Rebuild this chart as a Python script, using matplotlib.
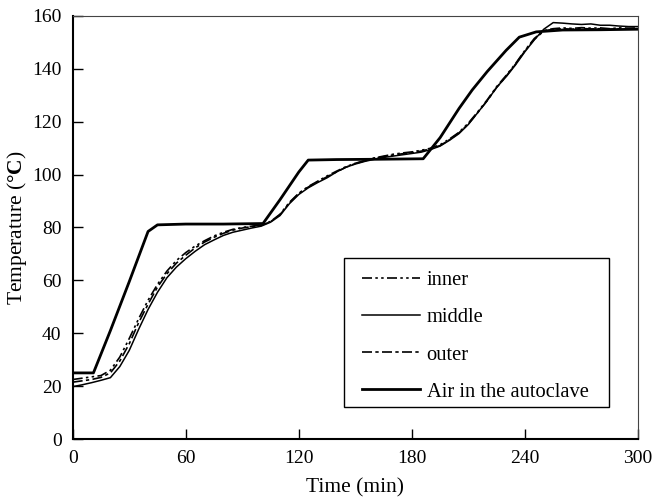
import matplotlib
matplotlib.use("Agg")
import matplotlib.pyplot as plt
from matplotlib.patches import Rectangle

plt.rcParams['font.family'] = ['Liberation Serif', 'DejaVu Serif']
plt.rcParams['mathtext.fontset'] = 'custom'
plt.rcParams['mathtext.rm'] = 'Liberation Serif'
plt.rcParams['mathtext.bf'] = 'Liberation Serif:bold'

# air temperature in the autoclave (breakpoints)
t_air = [0, 5, 11, 20, 30, 40, 45, 60, 80, 101, 110, 120, 125, 140, 160, 186, 195, 205,
         212, 220, 230, 237, 246, 260, 280, 300]
T_air = [25, 25, 25, 41, 59.5, 78.5, 81, 81.3, 81.3, 81.5, 90.5, 101, 105.5, 105.7, 105.8,
         106, 114, 125, 132, 139, 147, 152, 154, 154.7, 154.8, 155]

# probe readings every 5 min
t_probe = list(range(0, 301, 5))
T_inner = [22.5, 23, 23.5, 24, 26, 31, 38, 45.5, 52.5, 58.5, 63.5, 67.5, 70.5, 73, 75,
           76.8, 78.2, 79.3, 80, 80.5, 81, 82.3, 85, 89.5, 93, 95.5, 97.5, 99.5, 101.3,
           103, 104.3, 105.3, 106.3, 107, 107.7, 108.2, 108.6, 109.2, 110, 111.3, 113.5,
           116, 119.5, 123.8, 128.3, 133.3, 137.5, 142, 147, 151.5, 154.5, 155.2, 155.5,
           155.3, 155.6, 155.4, 155.5, 155.2, 155.5, 155.4, 155.5]
T_middle = [19.8, 20.5, 21.3, 22.2, 23.2, 27.4, 33.5, 41.5, 49, 55.5, 61, 65, 68.2, 71,
            73.5, 75.3, 77, 78.2, 79, 79.8, 80.5, 82, 84.5, 89, 92.5, 95, 97, 98.8, 101,
            102.8, 104, 105, 105.8, 106.5, 107, 107.5, 108, 108.5, 109.5, 110.8, 113, 115.5,
            119, 123.5, 128, 133, 137, 141.5, 146.5, 151, 155, 157.5, 157.3, 157, 156.8,
            157, 156.5, 156.5, 156.2, 156, 156]
T_outer = [21.5, 22, 22.5, 23.3, 25, 29.5, 36, 44, 51, 57.5, 62.5, 66.5, 69.5, 72.3, 74.5,
           76.3, 77.8, 79, 79.8, 80.3, 80.8, 82.2, 84.8, 89.3, 92.8, 95.3, 97.3, 99.2, 101,
           102.8, 104.2, 105.2, 106.2, 106.8, 107.4, 107.9, 108.3, 108.9, 109.8, 111, 113.2,
           115.8, 119.2, 123.5, 128, 133, 137.2, 141.8, 146.8, 151.2, 154.3, 155, 155.2,
           155, 155.3, 155.1, 155.2, 155, 155.2, 155.1, 155.2]

W, H = 653, 499
fig = plt.figure(figsize=(W / 100, H / 100), dpi=100)
ax = fig.add_axes([72.7 / W, 60 / H, (638 - 72.7) / W, (439 - 16) / H])

ax.plot(t_probe, T_inner, color='black', lw=1.2, ls=(0, (6, 2, 1.5, 2, 1.5, 2)), label='inner')
ax.plot(t_probe, T_middle, color='black', lw=1.1, ls='-', label='middle')
ax.plot(t_probe, T_outer, color='black', lw=1.2, ls=(0, (6, 2, 2, 2)), label='outer')
ax.plot(t_air, T_air, color='black', lw=2.0, ls='-', label='Air in the autoclave')

ax.set_xlim(0, 300)
ax.set_ylim(0, 160)
ax.set_xticks([0, 60, 120, 180, 240, 300])
ax.set_yticks(range(0, 161, 20))
ax.tick_params(direction='in', length=7, width=1, labelsize=14, pad=8,
               top=False, right=False)
for side in ['left', 'bottom']:
    ax.spines[side].set_linewidth(1.5)
for side in ['top', 'right']:
    ax.spines[side].set_linewidth(0.8)
    ax.spines[side].set_color('#444444')

ax.set_xlabel('Time (min)', fontsize=15.5, labelpad=8)
ax.set_ylabel('Temperature ($\\mathbf{\u00b0C}$)', fontsize=15.5, labelpad=2)

# legend box drawn separately so its padding matches the original
box = Rectangle((344 / W, 1 - 407 / H), 265 / W, 149 / H, transform=fig.transFigure,
                facecolor='white', edgecolor='black', lw=1.0, zorder=4)
ax.add_patch(box)
leg = ax.legend(loc='upper left', bbox_to_anchor=(362 / W, 1 - 271 / H),
                bbox_transform=fig.transFigure, borderaxespad=0, borderpad=0,
                fontsize=14.8, frameon=False, handlelength=2.8, handletextpad=0.34,
                labelspacing=0.86)
leg.set_zorder(5)

fig.savefig('out.png', dpi=100)
